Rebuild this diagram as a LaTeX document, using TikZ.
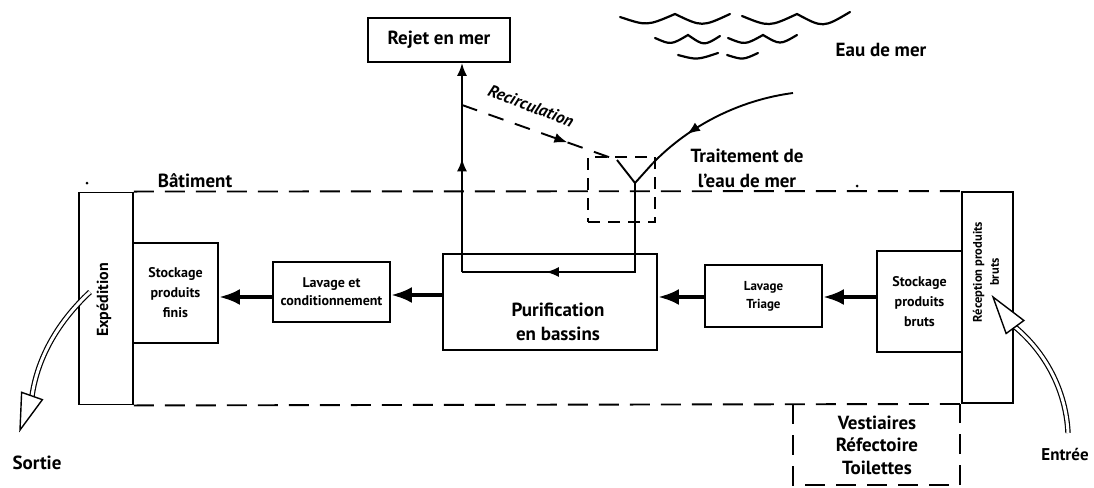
\documentclass[tikz,border=0pt]{standalone}
\usepackage{fontspec}
\setmainfont{PT Sans}
\usetikzlibrary{arrows.meta,calc,decorations.markings}
\begin{document}
\begin{tikzpicture}[x=1pt,y=-1pt,
  box/.style={draw, line width=1.9pt, align=center, inner sep=1pt},
  dsh/.style={line width=1.9pt, dash pattern=on 20pt off 11pt},
  flow/.style={line width=4pt, -{Latex[length=21pt,width=16pt]}},
  thin/.style={line width=1.9pt},
  midarrow/.style={decoration={markings, mark=at position #1 with {\arrow{Latex[length=13pt,width=10pt]}}}, postaction={decorate}},
  big/.style={font=\bfseries\fontsize{19}{24}\selectfont, align=center},
  small/.style={font=\bfseries\fontsize{14}{20}\selectfont, align=center},
  hollow/.style={line width=1.2pt, double, double distance=3pt},
  head/.style={line width=1.4pt, fill=white},
  wave/.style={line width=2.2pt, line cap=round}
]
\useasboundingbox (0,0) rectangle (1094,487);

% boxes
\node[box, minimum width=142pt, minimum height=44pt, big] (rejet) at (439,40) {Rejet en mer};
\node[box, minimum width=54pt, minimum height=212pt] (exp) at (106,298.5) {};
\node[rotate=90, font=\bfseries\fontsize{16}{19}\selectfont] (expt) at (104,300) {Expédition};
\node[box, minimum width=85pt, minimum height=100pt, small] (finis) at (175.5,293) {Stockage\\produits\\finis};
\node[box, minimum width=117pt, minimum height=60pt, font=\bfseries\fontsize{14}{18}\selectfont] (lavcond) at (331.5,292) {Lavage et\\conditionnement};
\node[box, minimum width=214pt, minimum height=96pt] (purif) at (550,302) {};
\node[big] (purift) at (558,322) {Purification\\en bassins};
\node[box, minimum width=117pt, minimum height=62pt, font=\bfseries\fontsize{13}{18}\selectfont] (lavtri) at (763.5,296) {Lavage\\Triage};
\node[box, minimum width=85pt, minimum height=101pt, small] (bruts) at (919.5,301.5) {Stockage\\produits\\bruts};
\node[box, minimum width=51pt, minimum height=211pt] (recep) at (987.5,297.5) {};
\node[rotate=90, font=\bfseries\fontsize{12.5}{17}\selectfont, align=center] (recept) at (986,272) {Réception produits\\bruts};

% building
\draw[dsh] (exp.north east) -- (recep.north west);
\draw[dsh] (exp.south east) -- (recep.south west);
\node[big] (bat) at (195,181) {Bâtiment};
\fill (87,183) circle (1.5pt);
\fill (857,186) circle (1.5pt);

% vestiaires
\coordinate (v1) at (793,404);
\coordinate (v2) at (960,404);
\draw[dsh] (v1) -- (793,485) -- (960,485) -- (v2);
\node[big, font=\bfseries\fontsize{19}{22.5}\selectfont] (vest) at (877,445) {Vestiaires\\Réfectoire\\Toilettes};

% flow arrows
\coordinate (row) at (0,297);
\coordinate (row2) at (0,295);
\draw[flow] (bruts.west |- row) -- (lavtri.east |- row);
\draw[flow] (lavtri.west |- row) -- (purif.east |- row);
\draw[flow] (purif.west |- row2) -- (lavcond.east |- row2);
\draw[flow] (lavcond.west |- row) -- (finis.east |- row);

% treatment
\node[draw, line width=1.9pt, dash pattern=on 12pt off 8pt, minimum width=67pt, minimum height=65pt] (ybox) at (621.5,189.5) {};
\coordinate (yj) at (635,183);
\coordinate (yl) at (617,160);
\coordinate (yr) at (653,163);
\coordinate (sea) at (793,93);
\draw[thin] (yl) -- (yj) -- (yr);
\draw[thin, midarrow=0.72] (sea) .. controls (740,100) and (690,125) .. (yr);
\node[big, font=\bfseries\fontsize{19}{25}\selectfont] (trait) at (747,168) {Traitement de\\l'eau de mer};

% water path
\coordinate (c1) at (635,272);
\coordinate (c2) at (462,272);
\coordinate (r0) at (462,105);
\draw[thin, midarrow=0.68] (yj) -- (c1) -- (c2);
\draw[thin, midarrow=0.68] (c2) -- (462,156) -- (r0);
\draw[thin, -{Latex[length=13pt,width=10pt]}] (r0) -- (rejet.south -| c2);

% recirculation
\draw[thin, dash pattern=on 16pt off 12pt, midarrow=0.68] (r0) -- (yl);
\node[rotate=-21, font=\bfseries\itshape\fontsize{17}{20}\selectfont] (recirc) at (531,106) {Recirculation};

% sea
\node[big] (eau) at (881,50) {Eau de mer};
\draw[wave] (620,17) .. controls (647,26) .. (675,14) .. controls (702,27) .. (730,14);
\draw[wave] (742,16) .. controls (769,27) .. (797,14) .. controls (823,28) .. (850,12);
\draw[wave] (655,38) .. controls (671,45) .. (688,35) .. controls (704,46) .. (720,36);
\draw[wave] (728,38) .. controls (745,45) .. (763,35) .. controls (780,45) .. (797,35);
\draw[wave] (678,55) .. controls (697,60) .. (718,53);
\draw[wave] (727,55) .. controls (743,60) .. (758,53);

% sortie
\coordinate (so0) at (90,292);
\coordinate (so1) at (32,396);
\coordinate (sot) at (20,430);
\draw[hollow] (so0) .. controls (60,320) and (38,355) .. (so1);
\draw[head] ($(so1)!11pt!90:(sot)$) -- (sot) -- ($(so1)!11pt!-90:(sot)$) -- cycle;
\node[big] (sortie) at (37,463) {Sortie};

% entree
\coordinate (en0) at (1068,433);
\coordinate (en1) at (1015,327);
\coordinate (ent) at (993,297);
\draw[hollow] (en0) .. controls (1066,390) and (1045,352) .. (en1);
\draw[head] ($(en1)!11pt!90:(ent)$) -- (ent) -- ($(en1)!11pt!-90:(ent)$) -- cycle;
\node[font=\bfseries\fontsize{17}{20}\selectfont] (entree) at (1065,454) {Entrée};
\end{tikzpicture}
\end{document}
